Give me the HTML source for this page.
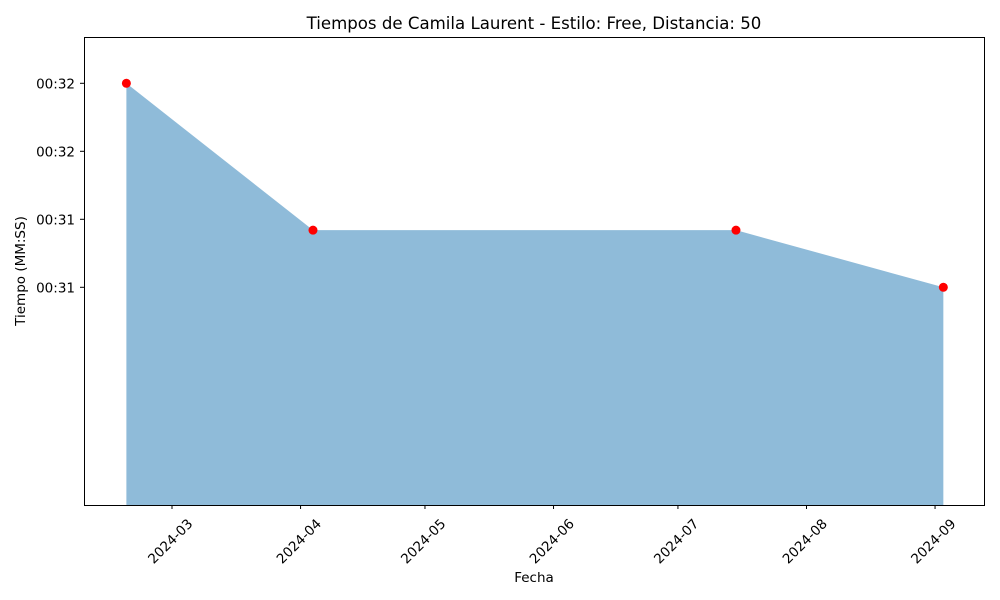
<!DOCTYPE html>
<html><head><meta charset="utf-8"><style>
body{margin:0;background:#fff;}
svg{display:block;font-family:"DejaVu Sans","Liberation Sans",sans-serif;}
</style></head><body>
<svg id="chart" width="1000" height="600" viewBox="0 0 1000 600">
<rect width="1000" height="600" fill="#fff"/>
<text x="534" y="29" font-size="16.6" text-anchor="middle" fill="#000">Tiempos de Camila Laurent - Estilo: Free, Distancia: 50</text>
<g id="plot"></g>
<rect x="84.5" y="37.5" width="900" height="468" fill="none" stroke="#000" stroke-width="1"/>
<text x="534" y="582" font-size="13.5" text-anchor="middle">Fecha</text>
<text transform="translate(25,271) rotate(-90)" font-size="13.5" text-anchor="middle">Tiempo (MM:SS)</text>
</svg>
<script>
const dates=["2024-02-19","2024-04-04","2024-07-15","2024-09-03"];
const times=[32.0,31.46,31.46,31.25];
const yTicks=[32.0,31.75,31.5,31.25];
const yTickLabels=["00:32","00:32","00:31","00:31"];
const xTicks=["2024-03-01","2024-04-01","2024-05-01","2024-06-01","2024-07-01","2024-08-01","2024-09-01"];
const xTickLabels=["2024-03","2024-04","2024-05","2024-06","2024-07","2024-08","2024-09"];

const NS="http://www.w3.org/2000/svg";
const g=document.getElementById('plot');
const day=s=>Date.parse(s)/86400000;
const d0=day("2024-03-01"), pxDay=4.147;
const X=s=>172+(day(s)-d0)*pxDay;
const Y=v=>83.3+(32.0-v)*272;
const yBottom=505;
function el(t,a){const e=document.createElementNS(NS,t);for(const k in a)e.setAttribute(k,a[k]);g.appendChild(e);return e;}

let d=`M${X(dates[0])},${yBottom}`;
dates.forEach((s,i)=>{d+=` L${X(s)},${Y(times[i])}`;});
d+=` L${X(dates[dates.length-1])},${yBottom} Z`;
const area=el('path',{d:d,fill:'#1f77b4','fill-opacity':0.5});



dates.forEach((s,i)=>{
  const c=el('circle',{cx:X(s),cy:Y(times[i]),r:4.5,fill:'#ff0000'});
  
  
});

yTicks.forEach((v,i)=>{
  const y=Y(v);
  const l=el('line',{x1:80,x2:84,y1:y,y2:y,stroke:'#000'});
  
  
  const t=el('text',{x:75,y:y+5,'font-size':13.5,'text-anchor':'end'});
  t.textContent=yTickLabels[i];
  
  
});

xTicks.forEach((s,i)=>{
  const x=X(s);
  const l=el('line',{x1:x,x2:x,y1:505,y2:509,stroke:'#000'});
  
  
  const t=el('text',{x:0,y:5,'font-size':13.5,'text-anchor':'middle',transform:`translate(${x-2},${541}) rotate(-45)`});
  t.textContent=xTickLabels[i];
  
  
});
</script>
</body></html>
